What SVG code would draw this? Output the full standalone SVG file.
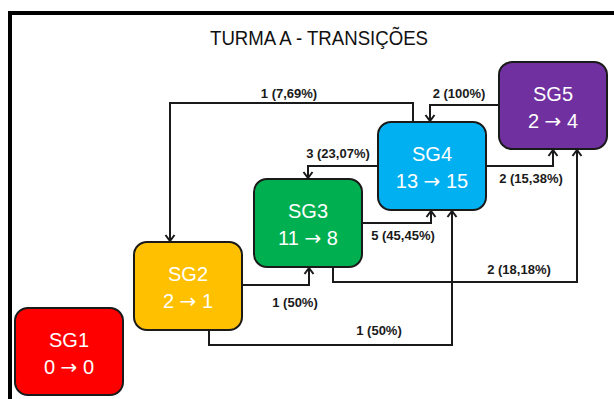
<svg xmlns="http://www.w3.org/2000/svg" width="614" height="399" viewBox="0 0 614 399">
  <style>
    .frame { fill: none; stroke: #000; stroke-width: 4; }
    .title { font-family: "Liberation Sans", Arial, sans-serif; font-size: 21px; fill: #111111; }
    .box { stroke: #1a1a1a; stroke-width: 2; }
    .ntext { font-family: "Liberation Sans", Arial, sans-serif; font-size: 20px; fill: #ffffff; text-anchor: middle; }
    .arr { font-family: "DejaVu Sans", sans-serif; font-size: 20px; }
    .link { fill: none; stroke: #1a1a1a; stroke-width: 2; marker-end: url(#arrow); }
    .lbl { font-family: "Liberation Sans", Arial, sans-serif; font-size: 13px; font-weight: bold; fill: #1a1a1a; text-anchor: middle; }
  </style>
  <defs>
    <marker id="arrow" viewBox="-7 -6 8 12" markerUnits="userSpaceOnUse" markerWidth="8" markerHeight="12" refX="0" refY="0" orient="auto">
      <polyline points="-6,-4.5 0,0 -6,4.5" fill="none" stroke="#1a1a1a" stroke-width="2"/>
    </marker>
  </defs>

  <rect width="614" height="399" fill="#ffffff"/>
  <!-- outer frame: left and top edges only -->
  <path class="frame" d="M10,401 V13 H616"/>

  <text class="title" x="210" y="45" textLength="218" lengthAdjust="spacingAndGlyphs">TURMA A - TRANSIÇÕES</text>

  <!-- connectors -->
  <g id="connectors">
    <path class="link" d="M413,122 V103 H170 V241"/>
    <path class="link" d="M499,105 H430 V121"/>
    <path class="link" d="M378,166 H308 V178"/>
    <path class="link" d="M486,166 H553 V150"/>
    <path class="link" d="M362,223 H431 V211"/>
    <path class="link" d="M333,267 V282 H577 V150"/>
    <path class="link" d="M242,285 H309 V268"/>
    <path class="link" d="M209,330 V345 H452 V211"/>
    <text class="lbl" x="289" y="98">1 (7,69%)</text>
    <text class="lbl" x="459" y="98">2 (100%)</text>
    <text class="lbl" x="338" y="158">3 (23,07%)</text>
    <text class="lbl" x="531" y="183">2 (15,38%)</text>
    <text class="lbl" x="403" y="240">5 (45,45%)</text>
    <text class="lbl" x="519" y="274">2 (18,18%)</text>
    <text class="lbl" x="295" y="307">1 (50%)</text>
    <text class="lbl" x="379" y="335">1 (50%)</text>
  </g>

  <!-- nodes -->
  <g id="SG1">
    <rect class="box" x="15" y="308" width="108" height="87" rx="13" fill="#ff0000"/>
    <text class="ntext" x="69" y="347">SG1</text>
    <text class="ntext" x="69" y="374">0 <tspan class="arr">→</tspan> 0</text>
  </g>
  <g id="SG2">
    <rect class="box" x="134" y="242" width="108" height="88" rx="13" fill="#ffc000"/>
    <text class="ntext" x="188" y="281">SG2</text>
    <text class="ntext" x="188" y="308">2 <tspan class="arr">→</tspan> 1</text>
  </g>
  <g id="SG3">
    <rect class="box" x="254" y="179" width="108" height="88" rx="13" fill="#00b050"/>
    <text class="ntext" x="308" y="218">SG3</text>
    <text class="ntext" x="308" y="245">11 <tspan class="arr">→</tspan> 8</text>
  </g>
  <g id="SG4">
    <rect class="box" x="378" y="122" width="108" height="88" rx="13" fill="#00b0f0"/>
    <text class="ntext" x="432" y="161">SG4</text>
    <text class="ntext" x="432" y="188">13 <tspan class="arr">→</tspan> 15</text>
  </g>
  <g id="SG5">
    <rect class="box" x="499" y="62" width="108" height="87" rx="13" fill="#7030a0"/>
    <text class="ntext" x="553" y="101">SG5</text>
    <text class="ntext" x="553" y="128">2 <tspan class="arr">→</tspan> 4</text>
  </g>
</svg>
